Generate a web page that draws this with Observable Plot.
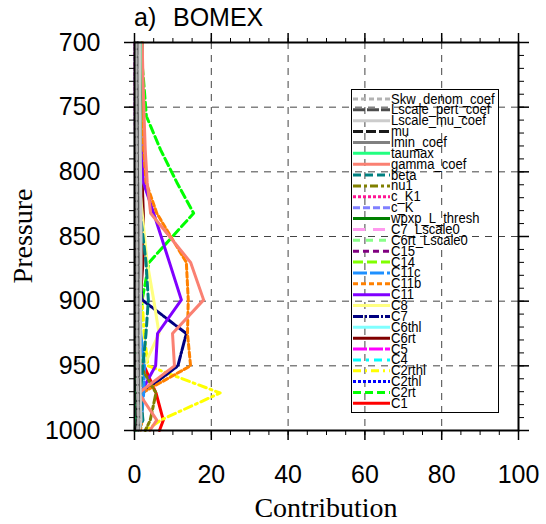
<!DOCTYPE html>
<html><head><meta charset="utf-8">
<script src="https://cdn.jsdelivr.net/npm/d3@7"></script>
<script src="https://cdn.jsdelivr.net/npm/@observablehq/plot@0.6"></script>
<style>body{margin:0;background:#fff}</style>
</head><body><div id="chart"></div>
<script>
// ---- data ----
const levels = [700, 727, 757, 783, 808, 832, 870, 899, 925, 950, 971, 992, 1000];
const seriesNames = ["Skw_denom_coef","Lscale_pert_coef","Lscale_mu_coef","mu","lmin_coef","taumax","gamma_coef","beta","nu1","c_K1","c_K","wpxp_L_thresh","C7_Lscale0","C6rt_Lscale0","C15","C14","C11c","C11b","C11","C8","C7","C6thl","C6rt","C5","C4","C2rthl","C2thl","C2rt","C1"];
const Skw_denom_coef = [0.4,0.4,0.4,0.5,0.5,0.5,0.6,0.6,0.6,0.7,0.8,1.0,0.8];
const Lscale_pert_coef = [0.6,0.6,0.7,0.7,0.8,0.8,0.9,0.9,0.9,1.0,1.0,1.1,0.9];
const Lscale_mu_coef = [1.4,1.4,1.5,1.5,1.6,1.7,1.7,1.6,1.5,1.4,1.5,1.7,1.3];
const mu = [0.3,0.3,0.3,0.3,0.4,0.4,0.4,0.5,0.5,0.5,0.6,0.7,0.5];
const lmin_coef = [1.0,1.0,1.0,1.1,1.1,1.2,1.2,1.2,1.1,1.1,1.2,1.3,1.0];
const taumax = [1.5,1.4,1.2,1.1,1.0,0.9,0.8,0.7,0.6,0.6,0.6,0.5,0.4];
const gamma_coef = [2.0,2.2,2.5,2.8,3.3,4.2,14.6,18.0,9.9,10.4,1.1,5.8,4.0];
const beta = [0.4,0.5,0.6,0.8,1.0,1.5,3.0,3.6,3.0,2.2,1.5,2.2,1.0];
const nu1 = [0.3,0.3,0.3,0.4,0.5,0.6,0.8,1.0,1.2,1.5,5.6,4.1,2.8];
const c_K1 = [0.2,0.2,0.2,0.3,0.3,0.4,0.5,0.6,0.7,0.9,1.2,1.0,0.6];
const c_K = [0.3,0.3,0.3,0.4,0.5,0.6,0.8,0.9,1.0,1.0,1.1,0.9,0.6];
const wpxp_L_thresh = [2.0,1.8,1.6,1.4,1.2,1.0,0.8,0.6,0.5,0.4,0.3,0.3,0.2];
const C7_Lscale0 = [0.2,0.2,0.2,0.3,0.3,0.4,0.5,0.5,0.6,0.7,0.9,0.8,0.5];
const C6rt_Lscale0 = [0.3,0.3,0.3,0.4,0.5,0.6,0.8,0.9,0.8,0.7,0.8,0.7,0.5];
const C15 = [0.2,0.2,0.3,0.3,0.4,0.5,0.7,0.8,0.8,0.9,1.0,0.8,0.5];
const C14 = [0.3,0.3,0.4,0.4,0.5,0.7,1.0,1.2,1.0,0.9,1.0,0.9,0.6];
const C11c = [0.3,0.3,0.4,0.5,0.6,0.8,1.2,1.5,1.6,2.6,2.4,1.8,1.0];
const C11b = [1.8,1.9,2.1,2.4,3.0,5.8,13.5,14.0,13.8,14.6,1.9,2.0,1.5];
const C11 = [1.0,1.2,1.5,1.8,2.3,5.0,9.1,12.2,6.0,5.5,1.6,1.0,0.5];
const C8 = [0.8,0.8,0.9,1.0,1.2,2.0,3.3,5.0,6.4,2.5,1.5,1.0,0.5];
const C7 = [0.5,0.5,0.6,0.6,0.7,0.8,1.0,2.0,13.5,11.3,2.0,1.0,0.5];
const C6thl = [0.5,0.5,0.6,0.7,0.8,1.0,1.3,1.5,1.6,1.5,1.3,1.0,0.6];
const C6rt = [0.8,0.9,1.0,1.4,2.0,2.3,2.2,1.5,1.0,0.8,0.8,0.6,0.4];
const C5 = [0.4,0.4,0.5,0.6,0.8,1.0,1.0,0.9,0.9,1.0,1.8,1.2,0.8];
const C4 = [0.4,0.4,0.5,0.6,0.7,0.9,1.1,1.3,1.5,1.6,1.8,1.5,0.9];
const C2rthl = [0.6,0.6,0.6,0.7,0.8,1.0,1.5,2.0,2.5,3.5,22.3,6.8,3.0];
const C2thl = [0.2,0.2,0.2,0.3,0.3,0.4,0.5,0.6,0.7,0.8,1.0,1.5,1.0];
const C2rt = [1.5,2.3,3.1,6.8,11.0,15.4,3.8,2.0,1.5,1.2,1.0,0.8,0.5];
const C1 = [0.5,0.5,0.6,0.7,0.8,1.2,1.6,1.5,1.5,2.5,5.6,7.5,6.5];
const xTicks = [0, 20, 40, 60, 80, 100];
const yTicks = [700, 750, 800, 850, 900, 950, 1000];
const titleText = "a)";
const caseText = "BOMEX";
const xLabel = "Contribution";
const yLabel = "Pressure";

// ---- styles (legend order) ----
const colors = ["#b3b3b3","#4d4d4d","#cccccc","#1a1a1a","#808080","#22ff80","#fa8072","#008080","#808000","#ff1493","#8080ff","#008000","#ff99ee","#88ff88","#800080","#80ff00","#1e90ff","#ff8000","#8000ff","#ffff80","#000080","#80ffff","#800000","#ff00ff","#00ffff","#ffff00","#0000ff","#00ff00","#ff0000"];
const dashes = ["5,3","12,2",null,"10,3",null,null,null,"8,4","8,3,3,3","3,2","7,3",null,"12,8","7,6","6,4","10,4","14,3","5,3",null,null,"10,2,2,2",null,null,"14,2","8,5,3,5","8,4,2,4","3,2","8,4",null];

const valuesByName = {Skw_denom_coef,Lscale_pert_coef,Lscale_mu_coef,mu,lmin_coef,taumax,gamma_coef,beta,nu1,c_K1,c_K,wpxp_L_thresh,C7_Lscale0,C6rt_Lscale0,C15,C14,C11c,C11b,C11,C8,C7,C6thl,C6rt,C5,C4,C2rthl,C2thl,C2rt,C1};

const W = 546, H = 524, ML = 134, MR = 28, MT = 42, MB = 94;

const lineMarks = [];
for (let i = seriesNames.length - 1; i >= 0; i--) {
  const name = seriesNames[i];
  const rows = levels.map((p, j) => ({p, v: valuesByName[name][j]}));
  const opts = {x: "v", y: "p", stroke: colors[i], strokeWidth: 3, curve: "linear"};
  if (dashes[i]) opts.strokeDasharray = dashes[i];
  lineMarks.push(Plot.line(rows, opts));
}

const blank = () => "";
const chart = Plot.plot({
  width: W, height: H,
  marginLeft: ML, marginRight: MR, marginTop: MT, marginBottom: MB,
  style: {fontFamily: "'Liberation Sans', Arial, Helvetica, sans-serif", background: "#fff"},
  x: {domain: [0, 100]},
  y: {domain: [700, 1000], reverse: true},
  marks: [
    Plot.gridX([20, 40, 60, 80], {stroke: "#444", strokeOpacity: 1, strokeWidth: 1, strokeDasharray: "7,6"}),
    Plot.gridY([750, 800, 850, 900, 950], {stroke: "#444", strokeOpacity: 1, strokeWidth: 1, strokeDasharray: "7,6"}),
    ...lineMarks,
    Plot.frame({stroke: "black", strokeWidth: 2}),
    Plot.axisX(xTicks, {anchor: "bottom", tickSize: 10, tickPadding: 25, fontSize: 25, label: null, strokeWidth: 1.5, tickFormat: d => String(d)}),
    Plot.axisX(d3.range(0, 101, 5), {anchor: "bottom", tickSize: 5, label: null, tickFormat: blank}),
    Plot.axisX(xTicks, {anchor: "top", tickSize: 10, label: null, strokeWidth: 1.5, tickFormat: blank}),
    Plot.axisX(d3.range(0, 101, 5), {anchor: "top", tickSize: 5, label: null, tickFormat: blank}),
    Plot.axisY(yTicks, {anchor: "left", tickSize: 10, tickPadding: 24, fontSize: 25, label: null, strokeWidth: 1.5, tickFormat: d => String(d)}),
    Plot.axisY(d3.range(700, 1001, 10), {anchor: "left", tickSize: 5, label: null, tickFormat: blank}),
    Plot.axisY(yTicks, {anchor: "right", tickSize: 10, label: null, strokeWidth: 1.5, tickFormat: blank}),
    Plot.axisY(d3.range(700, 1001, 10), {anchor: "right", tickSize: 5, label: null, tickFormat: blank})
  ]
});
document.getElementById("chart").appendChild(chart);

// ---- title, axis titles, legend (layout) ----
const svg = d3.select(chart);
svg.append("text").attr("x", 134).attr("y", 26).attr("font-size", 25).attr("fill", "black").attr("text-anchor", "start")
  .attr("font-family", "'Liberation Sans', Arial, sans-serif").text(titleText);
svg.append("text").attr("x", 173).attr("y", 26).attr("font-size", 25).attr("fill", "black").attr("text-anchor", "start")
  .attr("font-family", "'Liberation Sans', Arial, sans-serif").text(caseText);
svg.append("text").attr("x", (ML + W - MR) / 2).attr("y", 517).attr("text-anchor", "middle")
  .attr("font-size", 28).attr("font-family", "'Liberation Serif', 'Times New Roman', serif").attr("fill", "black").text(xLabel);
svg.append("text").attr("transform", `translate(32,${(MT + H - MB) / 2}) rotate(-90)`).attr("text-anchor", "middle")
  .attr("font-size", 28).attr("font-family", "'Liberation Serif', 'Times New Roman', serif").attr("fill", "black").text(yLabel);

const lg = svg.append("g");
lg.append("rect").attr("x", 351.5).attr("y", 89.5).attr("width", 147).attr("height", 323)
  .attr("fill", "none").attr("stroke", "black").attr("stroke-width", 1);
const y0 = 99, dy = 10.87;
seriesNames.forEach((name, i) => {
  const yy = y0 + i * dy;
  const ln = lg.append("line").attr("x1", 353).attr("x2", 390).attr("y1", yy).attr("y2", yy)
    .attr("stroke", colors[i]).attr("stroke-width", 3);
  if (dashes[i]) ln.attr("stroke-dasharray", dashes[i]);
  lg.append("text").attr("transform", `translate(391,${yy + 4.5}) scale(0.87,1)`).attr("text-anchor", "start")
    .attr("font-size", 15).attr("font-family", "'Liberation Sans', Arial, sans-serif").attr("fill", "black").text(name);
});
</script>
</body></html>
